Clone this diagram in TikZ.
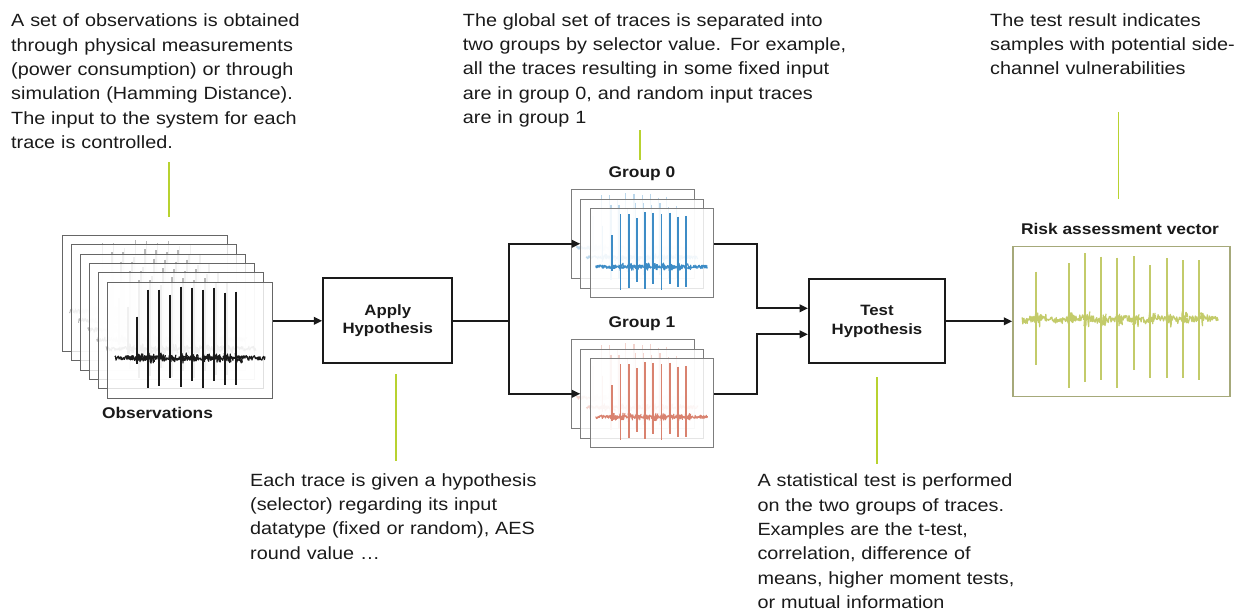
\documentclass[tikz,border=0pt]{standalone}
\usepackage{fontspec}
\setmainfont{Liberation Sans}[FakeStretch=1.12]
\usetikzlibrary{arrows.meta}

\definecolor{ink}{HTML}{1A1A1A}
\definecolor{callout}{HTML}{B8D230}
\definecolor{framegray}{HTML}{666666}
\definecolor{tblue}{HTML}{3D8CC6}
\definecolor{tred}{HTML}{D9826F}
\definecolor{tolive}{HTML}{C3CB6A}
\definecolor{oliveframe}{HTML}{A6A97A}

% one noisy side-channel trace in frame coordinates (165 x 116, y down)
% #1 colour, #2 noise line width, #3 spike line width
\newcommand\sctrace[3]{%
  \draw[#1, line width=#2, line join=round]
    plot[domain=7.7:157.7, samples=300] (\x,{76.3+2.4*rand});
  \foreach \sx/\st/\sb in {30/35/82,41/8/106,52/8/104,63/13/96,74/5/105,
                           85/6/99,96/8/106,107/6/99,118/11/103,129/10/103}{
    \pgfmathsetmacro\sxs{\sx-1}
    \pgfmathsetmacro\sxe{\sx+6}
    \draw[#1, line width=#3] (\sx,\st) -- (\sx,\sb);
    \draw[#1, line width=#2, line join=round]
      plot[domain=\sxs:\sxe, samples=14] (\x,{76.3+5*rand});
  }%
}

\tikzset{
  flow/.style={draw=ink, line width=2pt},
  arr/.style={flow, -{Triangle[length=8.5pt,width=7.5pt]}},
  stepbox/.style={draw=ink, line width=2pt, fill=white, inner sep=0,
    align=center, text=ink, font=\fontsize{15}{18.5}\selectfont\bfseries},
  tframe/.style={draw=framegray, line width=1pt, fill=white, fill opacity=0.8,
    anchor=north west, inner sep=0, minimum width=165, minimum height=116},
  gframe/.style={tframe, draw=framegray!85, minimum width=123, minimum height=89},
  note/.style={anchor=base west, inner sep=0, text width=440, align=left,
    text=ink, font=\fontsize{17.7}{24.4}\selectfont},
  title/.style={anchor=base, inner sep=0, text=ink,
    font=\fontsize{15.5}{18}\selectfont\bfseries},
  callline/.style={draw=callout, line width=1.6pt},
}

\begin{document}
\begin{tikzpicture}[x=1pt, y=-1pt]
\useasboundingbox (0,0) rectangle (1250,613);

% ---- observation stack ----
\foreach \k in {0,...,5}{
  \pgfmathsetmacro\fx{61.7+9.12*\k}
  \pgfmathsetmacro\fy{235+9.34*\k}
  \node[tframe] (obs\k) at (\fx,\fy) {};
  \begin{scope}[shift={(obs\k.north west)}]
    \pgfmathsetseed{\k*7+3}
    \ifnum\k=5 \sctrace{ink}{1.2pt}{2pt}\else\sctrace{black!28}{0.9pt}{1.4pt}\fi
  \end{scope}
}
\node[title] (tobs) at (157.5,418) {Observations};

% ---- hypothesis step ----
\node[stepbox, minimum width=129, minimum height=85] (apply) at (387.8,320.8)
  {Apply\\Hypothesis};

% ---- group stacks ----
\foreach \k in {0,1,2}{
  \pgfmathsetmacro\fx{570.7+9.65*\k}
  \pgfmathsetmacro\fy{189.3+9.5*\k}
  \node[gframe] (g0\k) at (\fx,\fy) {};
  \begin{scope}[shift={(g0\k.north west)}, xscale=0.745, yscale=0.767]
    \pgfmathsetseed{\k*11+5}
    \ifnum\k=2 \sctrace{tblue}{1pt}{1.8pt}\else\sctrace{tblue!35}{0.8pt}{1.2pt}\fi
  \end{scope}
  \pgfmathsetmacro\fy{339.3+9.5*\k}
  \node[gframe] (g1\k) at (\fx,\fy) {};
  \begin{scope}[shift={(g1\k.north west)}, xscale=0.745, yscale=0.767]
    \pgfmathsetseed{\k*13+17}
    \ifnum\k=2 \sctrace{tred}{1pt}{1.8pt}\else\sctrace{tred!35}{0.8pt}{1.2pt}\fi
  \end{scope}
}
\node[title] (tg0) at (642,177.3) {Group 0};
\node[title] (tg1) at (642,327.3) {Group 1};

% ---- test step ----
\node[stepbox, minimum width=136, minimum height=84] (test) at (877,321.3)
  {Test\\Hypothesis};

% ---- risk assessment vector ----
\node[draw=oliveframe, line width=1.2pt, anchor=north west, inner sep=0,
      minimum width=217, minimum height=150] (risk) at (1012.3,246) {};
\begin{scope}[shift={(risk.north west)}]
  \pgfmathsetseed{99}
  \draw[tolive, line width=1.3pt, line join=round]
    plot[domain=9.4:206, samples=360] (\x,{73+1.5*sin(\x*9)+3.4*rand});
  \foreach \sx/\st/\sb in {23.7/25.7/119, 56.7/17.3/142, 72.7/7.3/135.7,
      88.7/10.7/134, 105/11.7/141.7, 121.7/10/124, 137.7/19/132.3,
      154.4/12.3/132.3, 170.4/14/132.3, 187/14/134}{
    \pgfmathsetmacro\sxs{\sx-1}
    \pgfmathsetmacro\sxe{\sx+5}
    \draw[tolive, line width=2pt] (\sx,\st) -- (\sx,\sb);
    \draw[tolive, line width=1.2pt, line join=round]
      plot[domain=\sxs:\sxe, samples=14] (\x,{73+8*rand});
  }
\end{scope}
\node[title] (trisk) at (1120,234) {Risk assessment vector};

% ---- flow connectors ----
\coordinate (fork) at (509,320.8);
\coordinate (merge) at (757,320);
\coordinate (t0in) at ([yshift=13pt]test.west);
\coordinate (t1in) at ([yshift=-13pt]test.west);
\draw[arr] (obs5.east |- apply.west) -- (apply.west);
\draw[flow] (apply.east) -- (fork);
\draw[arr] (fork) |- (g01.west);
\draw[arr] (fork) |- (g11.west);
\draw[arr] (g02.east |- g01.west) -| (merge |- t0in) -- (t0in);
\draw[arr] (g12.east |- g11.west) -| (merge |- t1in) -- (t1in);
\draw[arr] (test.east) -- (risk.west |- test.east);

% ---- annotations ----
\node[note] (n1) at (11,26.7) {A set of observations is obtained\\
  through physical measurements\\(power consumption) or through\\
  simulation (Hamming Distance).\\The input to the system for each\\
  trace is controlled.};
\node[note] (n2) at (462.7,26) {The global set of traces is separated into\\
  two groups by selector value. For example,\\
  all the traces resulting in some fixed input\\
  are in group 0, and random input traces\\are in group 1};
\node[note] (n3) at (990,26) {The test result indicates\\
  samples with potential side-\\channel vulnerabilities};
\node[note] (n4) at (250,486) {Each trace is given a hypothesis\\
  (selector) regarding its input\\datatype (fixed or random), AES\\
  round value …};
\node[note] (n5) at (757.3,486.7) {A statistical test is performed\\
  on the two groups of traces.\\Examples are the t-test,\\
  correlation, difference of\\means, higher moment tests,\\
  or mutual information};

\coordinate (c1a) at (169,162);   \coordinate (c1b) at (169,217);
\coordinate (c2a) at (640,130);   \coordinate (c2b) at (640,160);
\coordinate (c3a) at (1118.3,112);\coordinate (c3b) at (1118.3,199);
\coordinate (c4a) at (396,374);   \coordinate (c4b) at (396,461);
\coordinate (c5a) at (876.7,377); \coordinate (c5b) at (876.7,464);
\draw[callline] (c1a) -- (c1b);
\draw[callline] (c2a) -- (c2b);
\draw[callline] (c3a) -- (c3b);
\draw[callline] (c4a) -- (c4b);
\draw[callline] (c5a) -- (c5b);
\end{tikzpicture}
\end{document}
